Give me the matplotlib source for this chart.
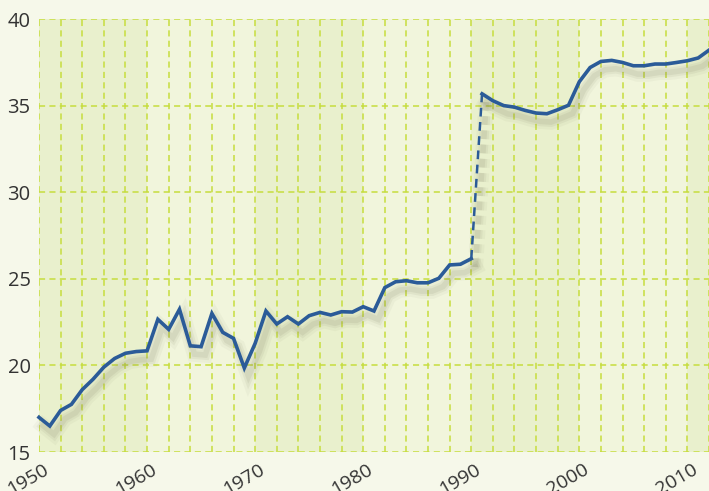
import matplotlib.pyplot as plt
import matplotlib.patheffects as pe
import matplotlib.transforms as mtransforms
import numpy as np

years = list(range(1950, 2013))
values = [
    17.0, 16.5, 17.4, 17.75, 18.6, 19.2, 19.9, 20.4, 20.7, 20.8,
    20.84, 22.66, 22.08, 23.24, 21.13, 21.08, 23.0, 21.91, 21.56, 19.85,
    21.27, 23.14, 22.39, 22.81, 22.39, 22.87, 23.06, 22.91, 23.1, 23.08,
    23.39, 23.14, 24.49, 24.83, 24.89, 24.77, 24.77, 25.03, 25.8, 25.84,
    26.16, 35.68, 35.28, 35.0, 34.91, 34.72, 34.57, 34.53, 34.76, 35.02,
    36.38, 37.2, 37.55, 37.61, 37.49, 37.3, 37.3, 37.4, 37.4, 37.49,
    37.59, 37.75, 38.2,
]
break_year = 1990
x_ticks = [1950, 1960, 1970, 1980, 1990, 2000, 2010]
y_ticks = [15, 20, 25, 30, 35, 40]

BG = "#f6f8ea"
BAND_DARK = "#e9f0cd"
BAND_LIGHT = "#f1f5dc"
GRID = "#c6dd3e"
LINE = "#2b5b98"

plt.rcParams["font.family"] = ["Open Sans", "DejaVu Sans"]

fig = plt.figure(figsize=(7.09, 4.91), dpi=100, facecolor=BG)
ax = fig.add_axes([39 / 709, 39 / 491, 670 / 709, 433 / 491])
ax.set_facecolor(BAND_LIGHT)

# alternating decade bands
for i, start in enumerate(range(1950, 2020, 10)):
    ax.axvspan(start, start + 10, color=BAND_DARK if i % 2 == 0 else BAND_LIGHT,
               lw=0, zorder=0)

ax.set_xlim(1950, 2012)
ax.set_ylim(15, 40)
ax.set_xticks(x_ticks)
ax.set_xticks(range(1950, 2013, 2), minor=True)
ax.set_yticks(y_ticks)
dash = (0, (4, 2.8))
ax.grid(True, which="both", axis="x", color=GRID, ls=dash, lw=1.1, zorder=1)
ax.grid(True, which="major", axis="y", color=GRID, ls=dash, lw=1.1, zorder=1)
for s in ax.spines.values():
    s.set_visible(False)
ax.tick_params(length=0, which="both", colors="#333333", labelsize=14)
ax.tick_params(axis="y", pad=6, labelsize=14.5)
shift = mtransforms.ScaledTranslation(4 / 100, -4 / 100, fig.dpi_scale_trans)
for lbl in ax.get_xticklabels():
    lbl.set_rotation(30)
    lbl.set_ha("right")
    lbl.set_va("top")
    lbl.set_rotation_mode("anchor")
    lbl.set_transform(lbl.get_transform() + shift)

shadow = [
    pe.SimpleLineShadow(offset=(3, -6), shadow_color="#707055", alpha=0.05, linewidth=11),
    pe.SimpleLineShadow(offset=(3, -6), shadow_color="#707055", alpha=0.08, linewidth=7),
    pe.SimpleLineShadow(offset=(3, -6), shadow_color="#707055", alpha=0.10, linewidth=4),
    pe.Normal(),
]

k = years.index(break_year)
ax.plot(years[:k + 1], values[:k + 1], color=LINE, lw=2.6, solid_joinstyle="miter",
        path_effects=shadow, zorder=3, clip_on=False)
ax.plot(years[k:k + 2], values[k:k + 2], color=LINE, lw=1.8, ls=(0, (3.5, 2.2)),
        path_effects=shadow, zorder=3)
ax.plot(years[k + 1:], values[k + 1:], color=LINE, lw=2.6, solid_joinstyle="miter",
        path_effects=shadow, zorder=3)

fig.savefig("out.png", dpi=100, facecolor=BG)
